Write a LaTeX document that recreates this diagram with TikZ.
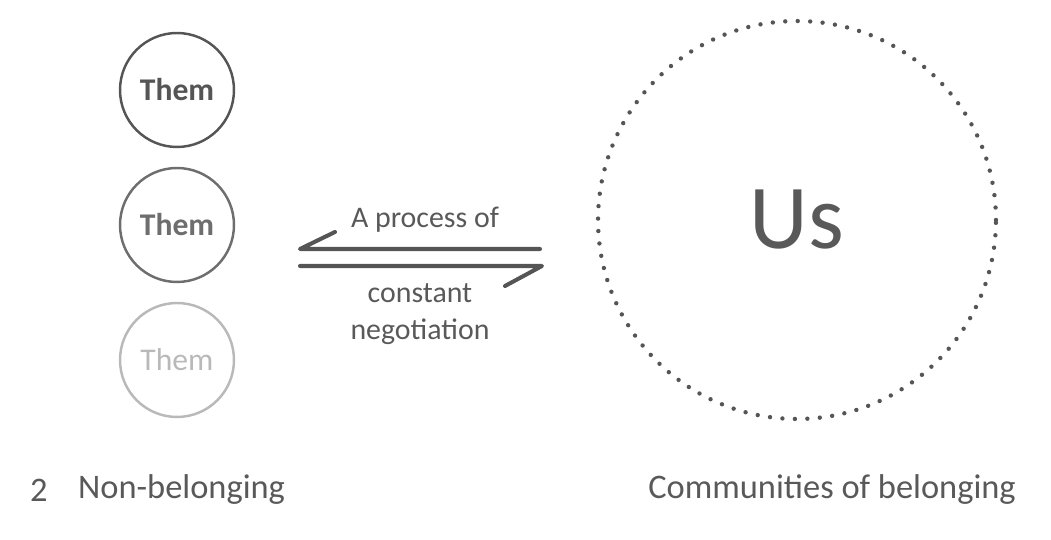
\documentclass[tikz,border=0pt]{standalone}
\usepackage{fontspec}
\setmainfont{Carlito}
\usetikzlibrary{positioning}

\definecolor{inkdark}{RGB}{85,85,85}
\definecolor{inkmid}{RGB}{110,110,110}
\definecolor{inklight}{RGB}{185,185,185}
\definecolor{textgray}{RGB}{89,89,89}

\begin{document}
\begin{tikzpicture}[x=0.02cm, y=0.02cm]
  % styles for the small circles, the arrows and the captions
  \tikzset{
    themcircle/.style={circle, draw=#1, text=#1, line width=1.4pt,
      minimum size=2.28cm, inner sep=0pt, font=\fontsize{18}{20}\selectfont},
    flowline/.style={draw=inkdark, line width=2.3pt, line cap=round, line join=round},
    caption/.style={text=textgray, font=\fontsize{19.6}{24}\selectfont},
    notetext/.style={text=textgray, font=\fontsize{17}{21}\selectfont}
  }
  \useasboundingbox (0,0) rectangle (1051,540);

  % the three "Them" circles, fading downwards
  \foreach \i/\y/\col/\wt in {1/450/inkdark/\bfseries, 2/315/inkmid/\bfseries, 3/180/inklight/}{
    \node[themcircle=\col] (them\i) at (177,\y) {\wt Them};
  }

  % the big dotted circle
  \node[circle, draw=inkdark, line width=2.5pt, line cap=round,
        dash pattern=on 0pt off 7.1pt, minimum size=7.96cm, inner sep=0pt,
        text=textgray, font=\fontsize{52}{60}\selectfont] (us) at (797,320) {Us};

  % the two half arrows
  \coordinate (topL) at (300,291);
  \coordinate (topR) at (540,291);
  \coordinate (botL) at (300,274);
  \coordinate (botR) at (542,274);
  \draw[flowline] (topR) -- (topL) -- ++(35,17);
  \draw[flowline] (botL) -- (botR) -- ++(-37,-20);

  \node[notetext] (process) at (425,320) {A process of};
  \node[notetext, align=center] (negot) at (420,226) {constant\\negotiation};

  % captions
  \node[caption, anchor=west] (num) at (24,50) {2};
  \node[caption, anchor=west] (nonbel) at (72,50) {Non-belonging};
  \node[caption, anchor=east] (commun) at (1022,50) {Communities of belonging};
\end{tikzpicture}
\end{document}
